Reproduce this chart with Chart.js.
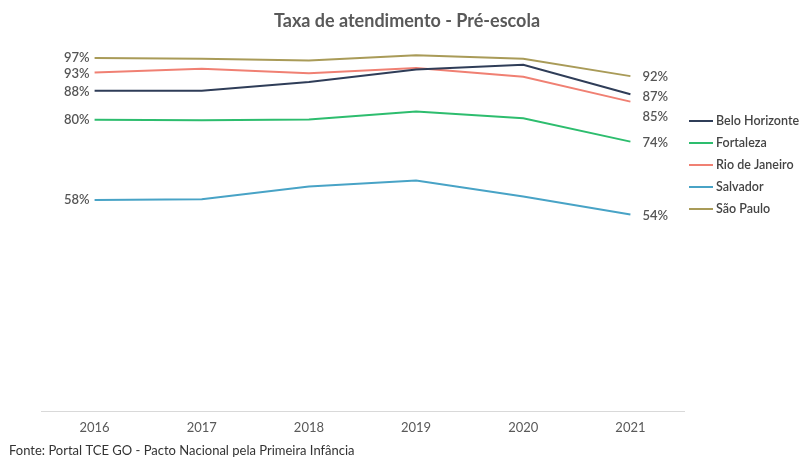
<!DOCTYPE html>
<html>
<head>
<meta charset="utf-8">
<script src="https://cdn.jsdelivr.net/npm/chart.js@4/dist/chart.umd.min.js"></script>
<style>
html,body{margin:0;padding:0;background:#fff;}
#wrap{width:803px;height:459px;position:relative;}
</style>
</head>
<body>
<div id="wrap"><canvas id="c" width="803" height="459"></canvas></div>
<script>
const years = ['2016','2017','2018','2019','2020','2021'];
const seriesNames = ['Belo Horizonte','Fortaleza','Rio de Janeiro','Salvador','São Paulo'];
const beloHorizonte = [88, 88, 90.4, 93.8, 95.1, 87];
const fortaleza = [80, 79.9, 80.1, 82.3, 80.4, 74];
const rioDeJaneiro = [93, 94, 92.8, 94.2, 91.8, 85];
const salvador = [58, 58.2, 61.7, 63.3, 58.9, 54];
const saoPaulo = [97, 96.8, 96.3, 97.7, 96.8, 92];
const colors = ['#2f3d58', '#2dbd6e', '#f08073', '#48a3c6', '#a99b58'];
const startLabels = ['88%','80%','93%','58%','97%'];
const endLabels = ['87%','74%','85%','54%','92%'];
const startLabelShift = [1, 0, 1, 0, 0];
const endLabelShift = [2, 1, 15, 1, 1];
const title = 'Taxa de atendimento - Pré-escola';
const source = 'Fonte: Portal TCE GO - Pacto Nacional pela Primeira Infância';

const allValues = [beloHorizonte, fortaleza, rioDeJaneiro, salvador, saoPaulo];
const FONT = 'Lato, "Open Sans", sans-serif';
const TXT = '#595959';

const decor = {
  id: 'decor',
  afterDraw(chart) {
    const ctx = chart.ctx;
    const x = chart.scales.x, y = chart.scales.y;
    ctx.save();
    ctx.fillStyle = TXT;
    ctx.font = 'bold 18px ' + FONT;
    ctx.textAlign = 'center';
    ctx.textBaseline = 'middle';
    ctx.fillText(title, 407, 21);
    ctx.font = '600 13px ' + FONT;
    ctx.fillStyle = '#555';
    allValues.forEach((vals, i) => {
      const x0 = x.getPixelForValue(0);
      const y0 = y.getPixelForValue(vals[0]);
      ctx.textAlign = 'right';
      ctx.fillText(startLabels[i], x0 - 5, y0 + startLabelShift[i]);
      const xn = x.getPixelForValue(vals.length - 1);
      const yn = y.getPixelForValue(vals[vals.length - 1]);
      ctx.textAlign = 'left';
      ctx.fillText(endLabels[i], xn + 12, yn + endLabelShift[i]);
    });
    ctx.font = '600 12.5px ' + FONT;
    ctx.textAlign = 'left';
    seriesNames.forEach((n, i) => {
      const ly = 121 + i * 22;
      ctx.strokeStyle = colors[i];
      ctx.lineWidth = 2;
      ctx.beginPath();
      ctx.moveTo(689, ly);
      ctx.lineTo(713, ly);
      ctx.stroke();
      ctx.fillStyle = '#444';
      ctx.fillText(n, 716, ly);
    });
    ctx.font = '13px ' + FONT;
    ctx.fillStyle = '#333';
    ctx.fillText(source, 9, 451);
    ctx.restore();
  }
};

new Chart(document.getElementById('c'), {
  type: 'line',
  data: {
    labels: years,
    datasets: seriesNames.map((n, i) => ({
      label: n,
      data: allValues[i],
      borderColor: colors[i],
      backgroundColor: colors[i],
      borderWidth: 2,
      pointRadius: 0,
      tension: 0,
      fill: false
    }))
  },
  options: {
    responsive: false,
    animation: false,
    layout: { padding: { left: 41, right: 119, top: 47, bottom: 0 } },
    plugins: { legend: { display: false }, tooltip: { enabled: false }, title: { display: false } },
    scales: {
      x: {
        offset: true,
        grid: { display: false, drawTicks: false, offset: true },
        border: { display: true, color: '#d9d9d9', width: 1 },
        ticks: { color: '#595959', font: { family: FONT, size: 13 }, padding: 9 },
        afterFit(s) { s.height = 48; }
      },
      y: { display: false, min: 0, max: 100 }
    }
  },
  plugins: [decor]
});
</script>
</body>
</html>
